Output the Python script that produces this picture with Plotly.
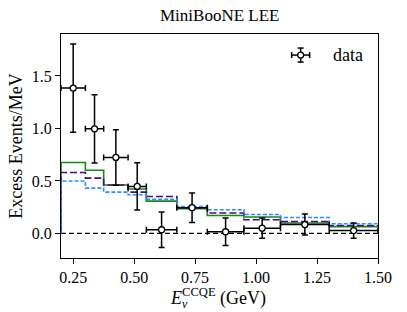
import plotly.graph_objects as go
import numpy as np

# ---- data ----
bin_edges = [0.2, 0.3, 0.375, 0.475, 0.55, 0.675, 0.8, 0.95, 1.1, 1.3, 1.5]
green_vals = [0.676, 0.602, 0.462, 0.423, 0.308, 0.235, 0.171, 0.156, 0.100, 0.065]
purple_vals = [0.581, 0.527, 0.462, 0.394, 0.352, 0.245, 0.194, 0.130, 0.114, 0.075]
blue_vals = [0.500, 0.432, 0.394, 0.368, 0.325, 0.256, 0.226, 0.180, 0.152, 0.092]
data_vals = [1.385, 0.997, 0.724, 0.448, 0.035, 0.245, 0.016, 0.050, 0.084, 0.027]
data_err = [0.420, 0.325, 0.265, 0.225, 0.170, 0.140, 0.132, 0.097, 0.100, 0.072]
x_ticks = [0.25, 0.50, 0.75, 1.00, 1.25, 1.50]
y_ticks = [0.0, 0.5, 1.0, 1.5]

FONT = "Liberation Serif"

edges = np.array(bin_edges)
centers = 0.5 * (edges[:-1] + edges[1:])
half_w = 0.5 * (edges[1:] - edges[:-1])


def step_xy(vals):
    xs = [edges[0]] + list(edges)
    ys = [0.0] + list(vals) + [vals[-1]]
    return xs, ys


fig = go.Figure()

# zero line
fig.add_trace(go.Scatter(x=[edges[0], edges[-1]], y=[0, 0], mode="lines",
                         line=dict(color="black", width=1.3, dash="5px,3px"),
                         showlegend=False, hoverinfo="skip"))

for vals, col, dash in [(green_vals, "#138a13", "solid"),
                        (purple_vals, "#4b0a82", "7px,3px"),
                        (blue_vals, "#2a8cff", "4px,2px")]:
    xs, ys = step_xy(vals)
    fig.add_trace(go.Scatter(x=xs, y=ys, mode="lines", line_shape="hv",
                             line=dict(color=col, width=1.6, dash=dash),
                             showlegend=False, hoverinfo="skip"))

fig.add_trace(go.Scatter(
    x=centers, y=data_vals, mode="markers",
    marker=dict(symbol="circle", size=6, color="white",
                line=dict(color="black", width=1.3)),
    error_y=dict(type="data", array=data_err, visible=True, color="black",
                 thickness=1.5, width=3),
    error_x=dict(type="data", array=half_w, visible=True, color="black",
                 thickness=1.5, width=3),
    showlegend=False, name="data"))

# legend key (drawn manually)
lx, ly = 0.756, 0.906
shapes = []
def pline(x0, y0, x1, y1):
    shapes.append(dict(type="line", xref="paper", yref="paper",
                       xsizemode="pixel", ysizemode="pixel",
                       xanchor=lx, yanchor=ly, x0=x0, y0=y0, x1=x1, y1=y1,
                       line=dict(color="black", width=1.5)))
pline(-9, 0, 9, 0)
pline(0, -7, 0, 7)
pline(-9, -3, -9, 3)
pline(9, -3, 9, 3)
pline(-3, -7, 3, -7)
pline(-3, 7, 3, 7)
shapes.append(dict(type="circle", xref="paper", yref="paper",
                   xsizemode="pixel", ysizemode="pixel",
                   xanchor=lx, yanchor=ly, x0=-3, y0=-3, x1=3, y1=3,
                   fillcolor="white", line=dict(color="black", width=1.3)))

annotations = [
    dict(text="data", xref="paper", yref="paper", x=0.852, y=ly,
         xanchor="left", yanchor="middle", showarrow=False,
         font=dict(family=FONT, size=18, color="black")),
    dict(text="MiniBooNE LEE", xref="paper", yref="paper", x=0.5, y=1.0,
         yshift=7, xanchor="center", yanchor="bottom", showarrow=False,
         font=dict(family=FONT, size=17, color="black")),
    dict(text="<i>E</i><sup>CCQE</sup> (GeV)", xref="paper", yref="paper",
         x=0.337, y=-0.174, xanchor="left", yanchor="middle", showarrow=False,
         font=dict(family=FONT, size=18, color="black")),
    dict(text="<i>ν</i>", xref="paper", yref="paper",
         x=0.376, y=-0.207, xanchor="left", yanchor="middle", showarrow=False,
         font=dict(family=FONT, size=12, color="black")),
]

fig.update_layout(
    width=407, height=312,
    margin=dict(l=61, r=29, t=34, b=54, autoexpand=False),
    paper_bgcolor="white", plot_bgcolor="white",
    font=dict(family=FONT, size=16, color="black"),
    shapes=shapes, annotations=annotations,
    showlegend=False,
)
fig.update_xaxes(range=[0.2, 1.5], tickvals=x_ticks,
                 ticktext=[f"{v:.2f}" for v in x_ticks],
                 ticks="outside", ticklen=5, tickwidth=1, tickcolor="black",
                 tickfont=dict(family=FONT, size=16),
                 showline=True, linecolor="black", linewidth=1.2, mirror=True,
                 showgrid=False, zeroline=False)
fig.update_yaxes(range=[-0.234, 1.90], tickvals=y_ticks,
                 ticktext=[f"{v:.1f}" for v in y_ticks],
                 ticks="outside", ticklen=5, tickwidth=1, tickcolor="black",
                 tickfont=dict(family=FONT, size=16),
                 showline=True, linecolor="black", linewidth=1.2, mirror=True,
                 showgrid=False, zeroline=False,
                 title=dict(text="Excess Events/MeV", standoff=4,
                            font=dict(family=FONT, size=18)))

fig.write_html("out.html", config={"displayModeBar": False},
               post_script="document.body.style.margin='0';document.body.style.padding='0';")
